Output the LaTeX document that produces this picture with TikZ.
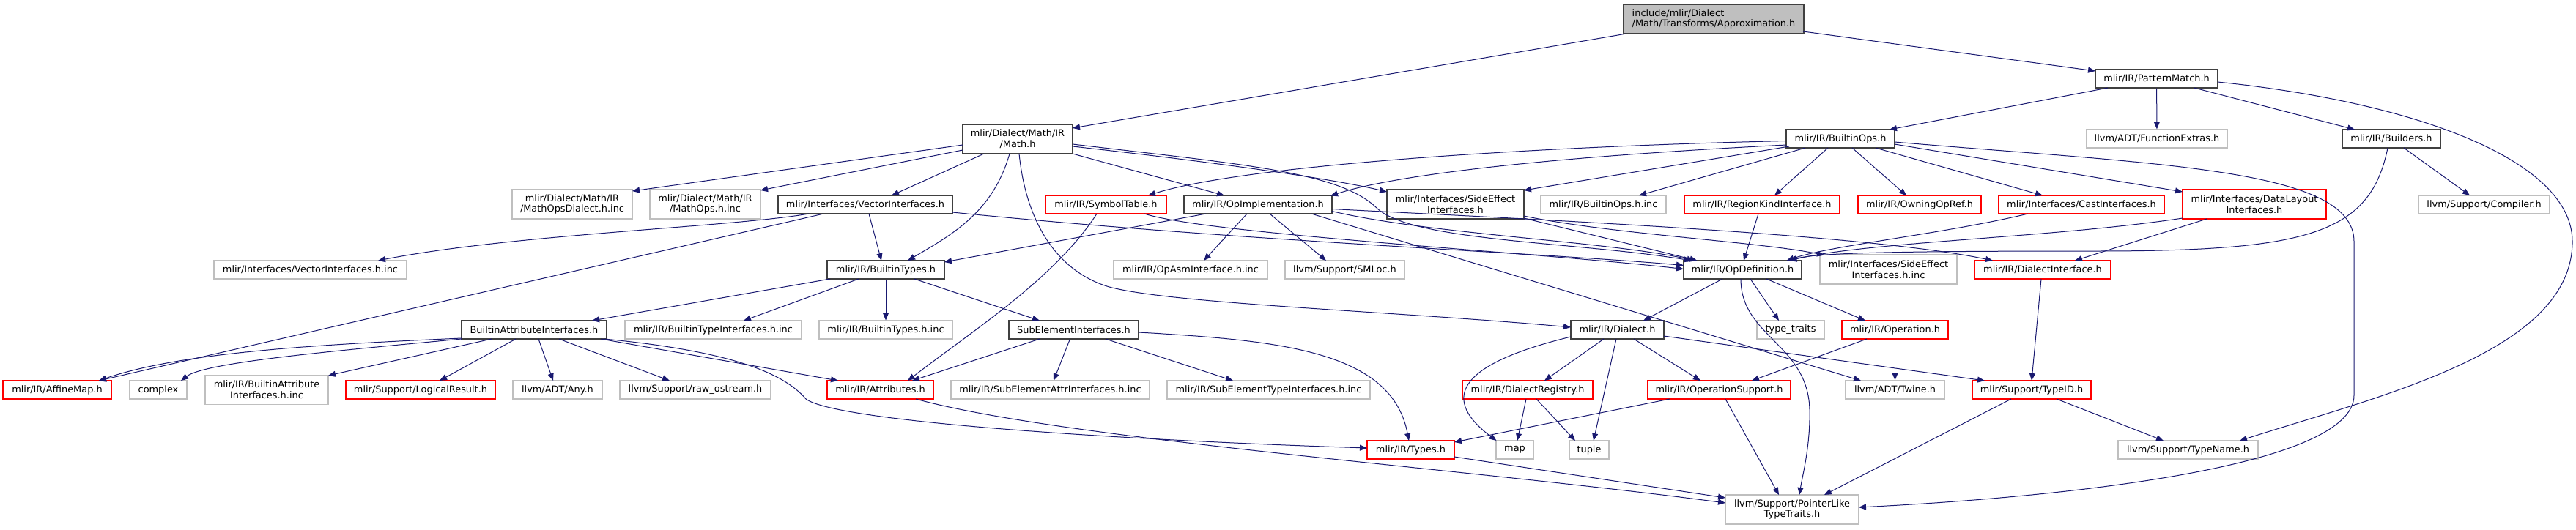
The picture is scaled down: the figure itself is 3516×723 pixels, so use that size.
\documentclass[tikz,border=0pt]{standalone}
\usepackage{fontspec}
\setmainfont{DejaVu Sans}
\usetikzlibrary{arrows.meta}
\definecolor{edgec}{HTML}{191970}
\definecolor{bdark}{HTML}{404040}
\definecolor{bgray}{HTML}{BFBFBF}
\definecolor{bred}{HTML}{FF0000}
\tikzset{
  base/.style={rectangle, inner sep=0pt, line width=1.1pt, fill=white, align=center,
    font=\fontsize{12.9}{14.7}\selectfont},
  nb/.style={base, draw=bdark},
  ng/.style={base, draw=bgray},
  nr/.style={base, draw=bred},
  sz/.style 2 args={minimum width=#1pt, minimum height=#2pt},
  e/.style={draw=edgec, line width=1pt, -{Triangle[length=10pt,width=8pt]}}
}
\begin{document}
\begin{tikzpicture}[x=1pt,y=-1pt]
\useasboundingbox (0,0) rectangle (3516,723);
% row 0
\node[nb, fill=bgray, align=left, sz={246}{40}] (root) at (2339,26) {include/mlir/Dialect\\/Math/Transforms/Approximation.h};
% row 1
\node[nb, sz={167}{25}] (pm) at (2943.5,107.5) {mlir/IR/PatternMatch.h};
% row 2
\node[nb, sz={150}{40}] (math) at (1389,190) {mlir/Dialect/Math/IR\\/Math.h};
\node[nb, sz={148}{25}] (bops) at (2512,189.5) {mlir/IR/BuiltinOps.h};
\node[ng, sz={192}{25}] (fext) at (2944,189.5) {llvm/ADT/FunctionExtras.h};
\node[nb, sz={134}{25}] (bld) at (3264,189.5) {mlir/IR/Builders.h};
% row 3
\node[ng, sz={164}{40}] (mod) at (781,279) {mlir/Dialect/Math/IR\\/MathOpsDialect.h.inc};
\node[ng, sz={151}{40}] (mops) at (962.5,279) {mlir/Dialect/Math/IR\\/MathOps.h.inc};
\node[nb, sz={238}{25}] (vi) at (1181,279.5) {mlir/Interfaces/VectorInterfaces.h};
\node[nr, sz={165}{25}] (st) at (1509.5,279.5) {mlir/IR/SymbolTable.h};
\node[nb, sz={202}{25}] (oimpl) at (1717,279.5) {mlir/IR/OpImplementation.h};
\node[nb, sz={187}{40}] (se) at (1986.5,279) {mlir/Interfaces/SideEffect\\Interfaces.h};
\node[ng, sz={171}{25}] (bopsinc) at (2188.5,279.5) {mlir/IR/BuiltinOps.h.inc};
\node[nr, sz={212}{25}] (rk) at (2405,279.5) {mlir/IR/RegionKindInterface.h};
\node[nr, sz={168}{25}] (oor) at (2620,279.5) {mlir/IR/OwningOpRef.h};
\node[nr, sz={226}{25}] (ci) at (2841,279.5) {mlir/Interfaces/CastInterfaces.h};
\node[nr, sz={196}{40}] (dl) at (3077,279) {mlir/Interfaces/DataLayout\\Interfaces.h};
\node[ng, sz={179}{25}] (comp) at (3390.5,279.5) {llvm/Support/Compiler.h};
% row 4
\node[ng, sz={263}{25}] (viinc) at (423.5,368.5) {mlir/Interfaces/VectorInterfaces.h.inc};
\node[nb, sz={160}{25}] (bt) at (1209,368.5) {mlir/IR/BuiltinTypes.h};
\node[ng, sz={210}{25}] (oasm) at (1625,368.5) {mlir/IR/OpAsmInterface.h.inc};
\node[ng, sz={163}{25}] (sml) at (1835.5,368.5) {llvm/Support/SMLoc.h};
\node[nb, sz={161}{25}] (od) at (2378.5,368.5) {mlir/IR/OpDefinition.h};
\node[ng, sz={187}{40}] (seinc) at (2577.5,368) {mlir/Interfaces/SideEffect\\Interfaces.h.inc};
\node[nr, sz={186}{25}] (di) at (2788,368.5) {mlir/IR/DialectInterface.h};
% row 5
\node[nb, sz={198}{25}] (bai) at (729,450.5) {BuiltinAttributeInterfaces.h};
\node[ng, sz={241}{25}] (btiinc) at (973.5,450.5) {mlir/IR/BuiltinTypeInterfaces.h.inc};
\node[ng, sz={182}{25}] (btinc) at (1209,450.5) {mlir/IR/BuiltinTypes.h.inc};
\node[nb, sz={177}{25}] (sub) at (1465.5,450.5) {SubElementInterfaces.h};
\node[nb, sz={127}{25}] (dia) at (2207.5,450.5) {mlir/IR/Dialect.h};
\node[ng, sz={92}{25}] (tt) at (2444,450.5) {type\_traits};
\node[nr, sz={145}{25}] (op) at (2586.5,450.5) {mlir/IR/Operation.h};
% row 6
\node[nr, sz={148}{25}] (amap) at (78,532.5) {mlir/IR/AffineMap.h};
\node[ng, sz={78}{25}] (cplx) at (216,532.5) {complex};
\node[ng, sz={168}{40}] (baiinc) at (364,532.5) {mlir/IR/BuiltinAttribute\\Interfaces.h.inc};
\node[nr, sz={204}{25}] (lr) at (574,532.5) {mlir/Support/LogicalResult.h};
\node[ng, sz={122}{25}] (any) at (761,532.5) {llvm/ADT/Any.h};
\node[ng, sz={206}{25}] (ros) at (949,532.5) {llvm/Support/raw\_ostream.h};
\node[nr, sz={145}{25}] (attr) at (1201.5,532.5) {mlir/IR/Attributes.h};
\node[ng, sz={271}{25}] (seai) at (1433.5,532.5) {mlir/IR/SubElementAttrInterfaces.h.inc};
\node[ng, sz={277}{25}] (seti) at (1731.5,532.5) {mlir/IR/SubElementTypeInterfaces.h.inc};
\node[nr, sz={178}{25}] (dreg) at (2085,532.5) {mlir/IR/DialectRegistry.h};
\node[nr, sz={195}{25}] (opsup) at (2346.5,532.5) {mlir/IR/OperationSupport.h};
\node[ng, sz={135}{25}] (twine) at (2586.5,532.5) {llvm/ADT/Twine.h};
\node[nr, sz={162}{25}] (tid) at (2773,532.5) {mlir/Support/TypeID.h};
% row 7
\node[nr, sz={119}{25}] (types) at (1925.5,614.5) {mlir/IR/Types.h};
\node[ng, sz={51}{25}] (map) at (2067.5,614.5) {map};
\node[ng, sz={54}{25}] (tuple) at (2169,614.5) {tuple};
\node[ng, sz={191}{25}] (tname) at (2986.5,614.5) {llvm/Support/TypeName.h};
% row 8
\node[ng, sz={182}{40}] (plt) at (2446,696) {llvm/Support/PointerLike\\TypeTraits.h};

% edges
\draw[e] ([shift={(-119,20)}]root.center) -- ([shift={(75,-15)}]math.center);
\draw[e] ([shift={(122,17)}]root.center) -- ([shift={(-83.5,-10.5)}]pm.center);
\draw[e] ([shift={(-66.5,12.5)}]pm.center) -- ([shift={(67,-12.5)}]bops.center);
\draw[e] (pm) -- (fext);
\draw[e] ([shift={(51.5,12.5)}]pm.center) -- ([shift={(-50,-12.5)}]bld.center);
\draw[e] ([shift={(83.5,4.5)}]pm.center) .. controls (3300,140) and (3511,220) .. (3511,330) .. controls (3511,480) and (3250,540) .. ([shift={(70.5,-12.5)}]tname.center);
\draw[e] ([shift={(-5,12.5)}]bld.center) .. controls (3235,320) and (3150,343) .. (2860,343) .. controls (2600,343) and (2480,345) .. ([shift={(63.5,-12.5)}]od.center);
\draw[e] ([shift={(17,12.5)}]bld.center) -- ([shift={(-19.5,-12.5)}]comp.center);
% Math.h
\draw[e] ([shift={(-75,8)}]math.center) -- ([shift={(82,-18)}]mod.center);
\draw[e] ([shift={(-75,15)}]math.center) -- ([shift={(75.5,-19)}]mops.center);
\draw[e] ([shift={(-46,20)}]math.center) -- ([shift={(36,-12.5)}]vi.center);
\draw[e] ([shift={(-11,20)}]math.center) .. controls (1355,290) and (1300,320) .. ([shift={(30,-12.5)}]bt.center);
\draw[e] ([shift={(2,20)}]math.center) .. controls (1400,300) and (1440,370) .. (1514,392) .. controls (1600,415) and (1900,425) .. ([shift={(-63.5,-3.5)}]dia.center);
\draw[e] ([shift={(75,20)}]math.center) -- ([shift={(-46,-12.5)}]oimpl.center);
\draw[e] ([shift={(75,10)}]math.center) .. controls (1600,215) and (1800,240) .. ([shift={(-93.5,-17)}]se.center);
\draw[e] ([shift={(75,7)}]math.center) .. controls (1700,225) and (1830,235) .. (1880,285) .. controls (1930,330) and (2150,330) .. ([shift={(-70,-12.5)}]od.center);
% BuiltinOps.h
\draw[e] ([shift={(-74,3)}]bops.center) .. controls (2100,200) and (1700,225) .. ([shift={(57.5,-12.5)}]st.center);
\draw[e] ([shift={(-74,8.5)}]bops.center) .. controls (2100,215) and (1900,240) .. ([shift={(99,-12)}]oimpl.center);
\draw[e] ([shift={(-70,10.5)}]bops.center) -- ([shift={(93.5,-19)}]se.center);
\draw[e] ([shift={(-48,12.5)}]bops.center) -- ([shift={(48.5,-12.5)}]bopsinc.center);
\draw[e] ([shift={(-17,12.5)}]bops.center) -- ([shift={(17,-12.5)}]rk.center);
\draw[e] ([shift={(16,12.5)}]bops.center) -- ([shift={(-18,-12.5)}]oor.center);
\draw[e] ([shift={(48,12.5)}]bops.center) -- ([shift={(-53,-12.5)}]ci.center);
\draw[e] ([shift={(74,7.5)}]bops.center) -- ([shift={(-98,-17)}]dl.center);
\draw[e] ([shift={(74,4.5)}]bops.center) .. controls (2950,225) and (3213,230) .. (3213,330) -- (3213,540) .. controls (3213,640) and (2800,680) .. ([shift={(91,-3)}]plt.center);
% VectorInterfaces.h
\draw[e] ([shift={(-77,12.5)}]vi.center) .. controls (1000,310) and (700,320) .. ([shift={(92.5,-12.5)}]viinc.center);
\draw[e] ([shift={(-57,12.5)}]vi.center) -- ([shift={(57,-12.5)}]amap.center);
\draw[e] ([shift={(5,12.5)}]vi.center) -- ([shift={(-6,-12.5)}]bt.center);
\draw[e] ([shift={(119,10.5)}]vi.center) .. controls (1700,330) and (2100,345) .. ([shift={(-80.5,-6)}]od.center);
% SymbolTable.h
\draw[e] ([shift={(52.5,12.5)}]st.center) .. controls (1650,320) and (2100,345) .. ([shift={(-80.5,-1)}]od.center);
\draw[e] ([shift={(-12.5,12.5)}]st.center) .. controls (1440,380) and (1330,450) .. ([shift={(37.5,-12.5)}]attr.center);
% OpImplementation.h
\draw[e] ([shift={(-71,12.5)}]oimpl.center) -- ([shift={(80,-10.5)}]bt.center);
\draw[e] ([shift={(-15,12.5)}]oimpl.center) -- ([shift={(18,-12.5)}]oasm.center);
\draw[e] ([shift={(16,12.5)}]oimpl.center) -- ([shift={(-25.5,-12.5)}]sml.center);
\draw[e] ([shift={(101,9)}]oimpl.center) .. controls (1950,320) and (2200,330) .. ([shift={(-66,-12.5)}]od.center);
\draw[e] ([shift={(101,6)}]oimpl.center) .. controls (2100,300) and (2550,320) .. ([shift={(-68,-12.5)}]di.center);
\draw[e] ([shift={(73,12.5)}]oimpl.center) -- ([shift={(-46.5,-12.5)}]twine.center);
% SideEffectInterfaces.h
\draw[e] ([shift={(93.5,19)}]se.center) -- ([shift={(-62,-12.5)}]od.center);
\draw[e] ([shift={(93.5,16)}]se.center) .. controls (2200,320) and (2400,330) .. ([shift={(-87.5,-19.5)}]seinc.center);
% others into OpDefinition
\draw[e] ([shift={(-5,12.5)}]rk.center) -- ([shift={(1.5,-12.5)}]od.center);
\draw[e] ([shift={(-73,12.5)}]ci.center) .. controls (2650,320) and (2500,335) .. ([shift={(60,-12.5)}]od.center);
\draw[e] ([shift={(-98,19)}]dl.center) .. controls (2800,325) and (2550,330) .. ([shift={(64,-12.5)}]od.center);
\draw[e] ([shift={(-65,20)}]dl.center) -- ([shift={(44,-12.5)}]di.center);
% OpDefinition.h
\draw[e] ([shift={(-27.5,12.5)}]od.center) -- ([shift={(35.5,-12.5)}]dia.center);
\draw[e] ([shift={(10.5,12.5)}]od.center) -- ([shift={(-16,-12.5)}]tt.center);
\draw[e] ([shift={(32.5,12.5)}]od.center) -- ([shift={(-40.5,-12.5)}]op.center);
\draw[e] ([shift={(-2.5,12.5)}]od.center) .. controls (2376,460) and (2468,470) .. (2470,560) .. controls (2471,610) and (2460,650) .. ([shift={(10,-20)}]plt.center);
% Dialect.h
\draw[e] ([shift={(-63.5,9.5)}]dia.center) .. controls (2000,495) and (1960,540) .. ([shift={(-25,-12.5)}]map.center);
\draw[e] ([shift={(-18.5,12.5)}]dia.center) -- ([shift={(23,-12.5)}]dreg.center);
\draw[e] ([shift={(-1.5,12.5)}]dia.center) -- ([shift={(6,-12.5)}]tuple.center);
\draw[e] ([shift={(22.5,12.5)}]dia.center) -- ([shift={(-25.5,-12.5)}]opsup.center);
\draw[e] ([shift={(63.5,8.5)}]dia.center) -- ([shift={(-64,-12.5)}]tid.center);
% Operation.h
\draw[e] ([shift={(-38.5,12.5)}]op.center) -- ([shift={(44.5,-12.5)}]opsup.center);
\draw[e] (op) -- (twine);
% DialectRegistry.h
\draw[e] ([shift={(-2,12.5)}]dreg.center) -- ([shift={(3.5,-12.5)}]map.center);
\draw[e] ([shift={(12,12.5)}]dreg.center) -- ([shift={(-19,-12.5)}]tuple.center);
% OperationSupport.h
\draw[e] ([shift={(-67.5,12.5)}]opsup.center) -- ([shift={(59.5,-10.5)}]types.center);
\draw[e] ([shift={(8.5,12.5)}]opsup.center) -- ([shift={(-18,-20)}]plt.center);
% Types / Attributes / TypeID
\draw[e] ([shift={(59.5,9.5)}]types.center) -- ([shift={(-91,-16)}]plt.center);
\draw[e] ([shift={(48.5,12.5)}]attr.center) .. controls (1450,600) and (2000,640) .. ([shift={(-91,-9)}]plt.center);
\draw[e] ([shift={(-28,12.5)}]tid.center) -- ([shift={(44,-20)}]plt.center);
\draw[e] ([shift={(34,12.5)}]tid.center) -- ([shift={(-33.5,-12.5)}]tname.center);
\draw[e] ([shift={(-2,12.5)}]di.center) -- ([shift={(0,-12.5)}]tid.center);
% BuiltinTypes.h
\draw[e] ([shift={(-76,12.5)}]bt.center) -- ([shift={(79,-12.5)}]bai.center);
\draw[e] ([shift={(-37,12.5)}]bt.center) -- ([shift={(41.5,-12.5)}]btiinc.center);
\draw[e] (bt) -- (btinc);
\draw[e] ([shift={(39,12.5)}]bt.center) -- ([shift={(-46.5,-12.5)}]sub.center);
% BuiltinAttributeInterfaces.h
\draw[e] ([shift={(-99,11.5)}]bai.center) .. controls (450,470) and (250,480) .. ([shift={(57,-12.5)}]amap.center);
\draw[e] ([shift={(-99,12.5)}]bai.center) .. controls (450,480) and (280,495) .. ([shift={(31,-12.5)}]cplx.center);
\draw[e] ([shift={(-58,12.5)}]bai.center) -- ([shift={(84,-19.5)}]baiinc.center);
\draw[e] ([shift={(-25,12.5)}]bai.center) -- ([shift={(26,-12.5)}]lr.center);
\draw[e] ([shift={(6,12.5)}]bai.center) -- ([shift={(-6,-12.5)}]any.center);
\draw[e] ([shift={(34,12.5)}]bai.center) -- ([shift={(-35,-12.5)}]ros.center);
\draw[e] ([shift={(91,12.5)}]bai.center) -- ([shift={(-57.5,-12.5)}]attr.center);
\draw[e] ([shift={(96,12.5)}]bai.center) .. controls (1000,480) and (1070,510) .. (1100,545) .. controls (1140,575) and (1500,600) .. ([shift={(-59.5,-2.5)}]types.center);
% SubElementInterfaces.h
\draw[e] ([shift={(-46.5,12.5)}]sub.center) -- ([shift={(43.5,-12.5)}]attr.center);
\draw[e] ([shift={(-5,12.5)}]sub.center) -- ([shift={(4.5,-12.5)}]seai.center);
\draw[e] ([shift={(43.5,12.5)}]sub.center) -- ([shift={(-48.5,-12.5)}]seti.center);
\draw[e] ([shift={(88.5,3.5)}]sub.center) .. controls (1750,465) and (1900,480) .. ([shift={(-2.5,-12.5)}]types.center);
\end{tikzpicture}
\end{document}
